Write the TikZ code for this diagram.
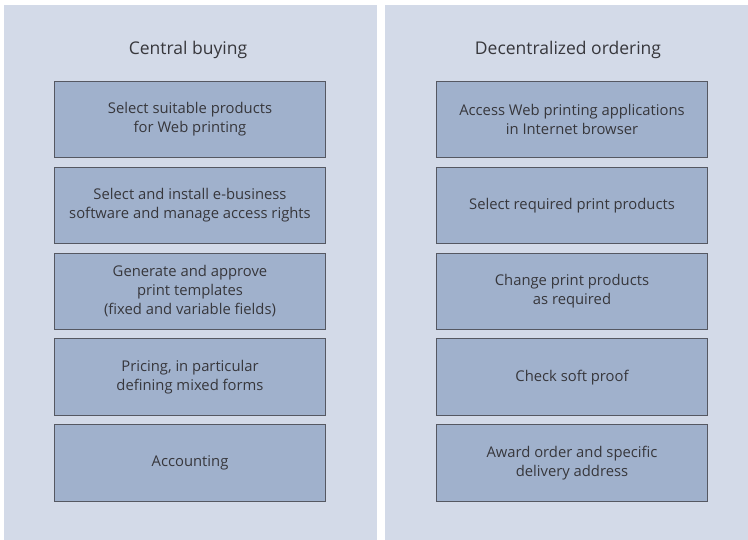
\documentclass[tikz,border=0pt]{standalone}
\usepackage{fontspec}
\setmainfont{Open Sans}
\usepackage{xcolor}
\definecolor{panelblue}{RGB}{211,218,232}
\definecolor{boxblue}{RGB}{160,177,204}
\definecolor{edgegray}{RGB}{85,88,98}
\definecolor{textgray}{RGB}{55,55,60}
\usetikzlibrary{positioning}

\begin{document}
\begin{tikzpicture}[x=1pt,y=1pt,
  node distance=8.5pt,
  box/.style={draw=edgegray,fill=boxblue,line width=0.9pt,minimum height=76.5pt,
    minimum width=271pt,align=center,font=\fontsize{14.8}{19}\selectfont,text=textgray},
  head/.style={font=\fontsize{17.5}{21}\selectfont,text=textgray}]
  \useasboundingbox (0,0) rectangle (748,-540);
  \fill[panelblue] (4,-5) rectangle (377,-540);
  \fill[panelblue] (385,-5) rectangle (748,-540);
  % left column
  \node[head](lh) at (188,-50){Central buying};
  \node[box](l1) at (190,-119.5){Select suitable products\\for Web printing};
  \node[box,below=of l1](l2){Select and install e-business\\software and manage access rights};
  \node[box,below=of l2](l3){Generate and approve\\print templates\\(fixed and variable fields)};
  \node[box,below=of l3](l4){Pricing, in particular\\defining mixed forms};
  \node[box,below=of l4](l5){Accounting};
  % right column
  \node[head](rh) at (568,-50){Decentralized ordering};
  \node[box](r1) at (572,-119.5){Access Web printing applications\\in Internet browser};
  \node[box,below=of r1](r2){Select required print products};
  \node[box,below=of r2](r3){Change print products\\as required};
  \node[box,below=of r3](r4){Check soft proof};
  \node[box,below=of r4](r5){Award order and specific\\delivery address};
\end{tikzpicture}
\end{document}
